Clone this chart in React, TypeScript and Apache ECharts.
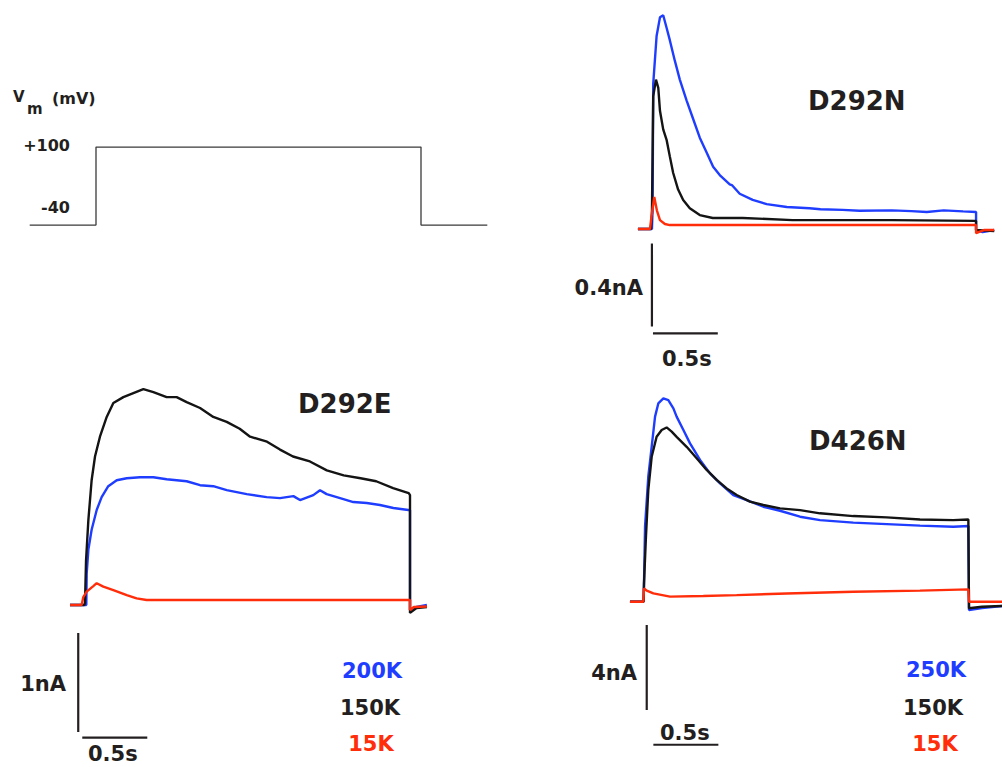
import React, { useEffect, useRef } from "react";
import * as echarts from "echarts";

// Membrane potential step (s, mV)
const vmStep: [number, number][] = [
  [-0.51, -40], [0, -40], [0, 100], [2.5, 100], [2.5, -40], [3.01, -40],
];

// D292N currents (s, nA)
const d292n200K: [number, number][] = [
  [-0.108, 0], [0, 0], [0.005, 0.09], [0.01, 0.7], [0.036, 0.93], [0.062, 1.02], [0.087, 1.03],
  [0.113, 0.97], [0.138, 0.91], [0.177, 0.81], [0.215, 0.72], [0.267, 0.62], [0.318, 0.53],
  [0.369, 0.44], [0.421, 0.37], [0.472, 0.3], [0.523, 0.26], [0.6, 0.215], [0.62, 0.21],
  [0.677, 0.17], [0.777, 0.14], [0.885, 0.12], [1.04, 0.106], [1.215, 0.1], [1.3, 0.095],
  [1.47, 0.092], [1.6, 0.088], [1.85, 0.09], [2.0, 0.086], [2.12, 0.082], [2.25, 0.09],
  [2.4, 0.085], [2.5, 0.082], [2.5, -0.005], [2.55, -0.015], [2.64, -0.005],
];
const d292n150K: [number, number][] = [
  [-0.108, 0], [-0.008, 0], [0, 0.077], [0.01, 0.64], [0.031, 0.72], [0.049, 0.68],
  [0.062, 0.57], [0.087, 0.48], [0.113, 0.43], [0.138, 0.35], [0.164, 0.27], [0.202, 0.19],
  [0.241, 0.14], [0.292, 0.1], [0.369, 0.067], [0.469, 0.053], [0.7, 0.053], [1.085, 0.043],
  [1.85, 0.043], [2.5, 0.039], [2.5, -0.005], [2.64, -0.01],
];
const d292n15K: [number, number][] = [
  [-0.108, 0], [-0.015, 0], [0, 0.077], [0.018, 0.154], [0.038, 0.09], [0.062, 0.043],
  [0.1, 0.024], [0.138, 0.019], [2.5, 0.019], [2.5, -0.02], [2.56, -0.005], [2.64, -0.005],
];

// D292E currents (s, nA)
const d292e200K: [number, number][] = [
  [-0.115, 0], [0.01, 0], [0.013, 0.32], [0.026, 0.56], [0.051, 0.76], [0.09, 0.96],
  [0.128, 1.09], [0.179, 1.2], [0.244, 1.26], [0.321, 1.28], [0.423, 1.29], [0.526, 1.29],
  [0.628, 1.27], [0.782, 1.25], [0.885, 1.21], [0.987, 1.2], [1.09, 1.16], [1.244, 1.12],
  [1.397, 1.09], [1.5, 1.08], [1.603, 1.1], [1.654, 1.06], [1.756, 1.11], [1.808, 1.16],
  [1.859, 1.12], [1.962, 1.08], [2.064, 1.04], [2.167, 1.03], [2.269, 1.01], [2.372, 0.98],
  [2.487, 0.96], [2.5, 0.96], [2.5, -0.05], [2.55, -0.02], [2.63, 0.0],
];
const d292e150K: [number, number][] = [
  [-0.115, 0], [-0.005, 0], [0, 0.02], [0.008, 0.45], [0.026, 0.86], [0.051, 1.26],
  [0.077, 1.5], [0.115, 1.7], [0.167, 1.9], [0.218, 2.04], [0.295, 2.1], [0.372, 2.14],
  [0.449, 2.18], [0.526, 2.15], [0.628, 2.1], [0.705, 2.1], [0.782, 2.05], [0.885, 1.99],
  [0.987, 1.9], [1.09, 1.85], [1.19, 1.78], [1.27, 1.7], [1.4, 1.65], [1.5, 1.57],
  [1.6, 1.5], [1.73, 1.45], [1.86, 1.36], [1.99, 1.31], [2.12, 1.28], [2.24, 1.25],
  [2.37, 1.18], [2.49, 1.13], [2.5, 1.11], [2.5, -0.08], [2.55, -0.03], [2.63, -0.02],
];
const d292e15K: [number, number][] = [
  [-0.115, 0], [-0.026, 0], [-0.013, 0.08], [0.013, 0.135], [0.064, 0.19], [0.09, 0.22],
  [0.141, 0.185], [0.218, 0.15], [0.321, 0.1], [0.397, 0.067], [0.474, 0.05], [0.577, 0.05],
  [2.5, 0.05], [2.5, -0.05], [2.53, -0.02], [2.63, -0.015],
];

// D426N currents (s, nA)
const d426n250K: [number, number][] = [
  [-0.108, 0], [-0.003, 0], [0, 0.86], [0.008, 3.53], [0.033, 5.88], [0.059, 7.29],
  [0.085, 8.71], [0.110, 9.33], [0.149, 9.57], [0.187, 9.49], [0.226, 9.1], [0.251, 8.71],
  [0.303, 8.08], [0.354, 7.45], [0.431, 6.67], [0.508, 6.04], [0.585, 5.57], [0.687, 5.02],
  [0.79, 4.78], [0.918, 4.47], [1.046, 4.28], [1.2, 4.0], [1.354, 3.84], [1.61, 3.72],
  [1.867, 3.65], [2.123, 3.58], [2.379, 3.53], [2.495, 3.56], [2.5, -0.39], [2.6, -0.3],
  [2.754, -0.2],
];
const d426n150K: [number, number][] = [
  [-0.108, 0], [-0.003, 0], [0, 0.86], [0.015, 3.06], [0.033, 5.25], [0.059, 6.82],
  [0.097, 7.76], [0.136, 8.08], [0.174, 8.2], [0.213, 8.0], [0.251, 7.76], [0.328, 7.29],
  [0.405, 6.75], [0.482, 6.2], [0.559, 5.73], [0.636, 5.33], [0.713, 5.02], [0.815, 4.71],
  [0.918, 4.55], [1.046, 4.39], [1.2, 4.31], [1.354, 4.16], [1.61, 4.03], [1.867, 3.97],
  [2.123, 3.87], [2.379, 3.84], [2.495, 3.87], [2.5, -0.31], [2.6, -0.24], [2.754, -0.2],
];
const d426n15K: [number, number][] = [
  [-0.108, 0], [-0.005, 0], [0, 0.63], [0.021, 0.52], [0.072, 0.39], [0.2, 0.24],
  [0.456, 0.27], [0.713, 0.31], [1.097, 0.39], [1.61, 0.47], [2.123, 0.52], [2.495, 0.58],
  [2.5, 0.0], [2.754, 0.0],
];

// Scale bars, anchored in each panel's data space
const d292nBars = { x: 0, yTop: -0.07, nA: 0.4, tStart: 0.008, sec: 0.5, yTime: -0.503 };
const d292eBars = { x: -0.052, yTop: -0.283, nA: 1, tStart: -0.021, sec: 0.5, yTime: -1.34 };
const d426nBars = { x: 0.021, yTop: -1.1, nA: 4, tStart: 0.072, sec: 0.5, yTime: -6.73 };

const legendD292E = ["200K", "150K", "15K"];
const legendD426N = ["250K", "150K", "15K"];

const BLUE = "#1f3dff";
const BLACK = "#141414";
const RED = "#ff2d0a";
const INK = "#231f20";
const FONT = "DejaVu Sans";

function trace(data: [number, number][], color: string, idx: number) {
  return {
    type: "line",
    data,
    xAxisIndex: idx,
    yAxisIndex: idx,
    showSymbol: false,
    symbol: "none",
    silent: true,
    lineStyle: { color, width: 2.4 },
  };
}

function bars(b: typeof d292nBars, idx: number) {
  const style = { color: INK, width: 2.2 };
  return [
    {
      type: "line", xAxisIndex: idx, yAxisIndex: idx, symbol: "none", silent: true,
      data: [[b.x, b.yTop], [b.x, b.yTop - b.nA]], lineStyle: style,
    },
    {
      type: "line", xAxisIndex: idx, yAxisIndex: idx, symbol: "none", silent: true,
      data: [[b.tStart, b.yTime], [b.tStart + b.sec, b.yTime]], lineStyle: style,
    },
  ];
}

function txt(text: string, x: number, y: number, size: number, align: string, fill = INK) {
  return {
    type: "text",
    x,
    y,
    silent: true,
    style: {
      text,
      fill,
      font: `bold ${size}px "${FONT}"`,
      textAlign: align,
      textVerticalAlign: "middle",
    },
  };
}

export default function App() {
  const ref = useRef<HTMLDivElement>(null);

  useEffect(() => {
    if (!ref.current) return;
    const chart = echarts.init(ref.current, undefined, { renderer: "svg" });

    const grids = [
      { left: 18, top: 135.9, width: 481, height: 100.3 },
      { left: 626, top: 0.75, width: 377, height: 373.5 },
      { left: 59, top: 367.4, width: 390, height: 376.2 },
      { left: 624.5, top: 346.7, width: 377, height: 414.4 },
    ];
    const xRanges = [[-0.6, 3.1], [-0.2, 2.7], [-0.2, 2.8], [-0.15, 2.75]];
    const yRanges = [[-60, 120], [-0.7, 1.1], [-1.4, 2.4], [-7.5, 12]];

    const option = {
      animation: false,
      backgroundColor: "#ffffff",
      grid: grids.map((g) => ({ ...g, containLabel: false, show: false })),
      xAxis: xRanges.map((r, i) => ({
        type: "value", gridIndex: i, min: r[0], max: r[1], show: false,
      })),
      yAxis: yRanges.map((r, i) => ({
        type: "value", gridIndex: i, min: r[0], max: r[1], show: false,
      })),
      series: [
        {
          type: "line", data: vmStep, xAxisIndex: 0, yAxisIndex: 0, symbol: "none",
          silent: true, lineStyle: { color: "#3a3a3a", width: 1.3 },
        },
        trace(d292n200K, BLUE, 1),
        trace(d292n150K, BLACK, 1),
        trace(d292n15K, RED, 1),
        ...bars(d292nBars, 1),
        trace(d292e200K, BLUE, 2),
        trace(d292e150K, BLACK, 2),
        trace(d292e15K, RED, 2),
        ...bars(d292eBars, 2),
        trace(d426n250K, BLUE, 3),
        trace(d426n150K, BLACK, 3),
        trace(d426n15K, RED, 3),
        ...bars(d426nBars, 3),
      ],
      graphic: [
        txt("V", 13, 97, 15, "left"),
        txt("m", 27, 109, 15, "left"),
        txt("(mV)", 52, 98, 16, "left"),
        txt("+100", 70, 145, 16, "right"),
        txt("-40", 70, 207, 16, "right"),
        txt("D292N", 808, 101, 26, "left"),
        txt("D292E", 298, 404, 26, "left"),
        txt("D426N", 809, 441, 26, "left"),
        txt("0.4nA", 643, 288, 21, "right"),
        txt("0.5s", 662, 359, 21, "left"),
        txt("1nA", 66, 684, 21, "right"),
        txt("0.5s", 88, 754, 21, "left"),
        txt("4nA", 637, 673, 21, "right"),
        txt("0.5s", 660, 733, 21, "left"),
        txt(legendD292E[0], 372, 671, 21, "center", BLUE),
        txt(legendD292E[1], 370, 708, 21, "center", INK),
        txt(legendD292E[2], 371, 744, 21, "center", RED),
        txt(legendD426N[0], 936, 670, 21, "center", BLUE),
        txt(legendD426N[1], 933, 708, 21, "center", INK),
        txt(legendD426N[2], 935, 744, 21, "center", RED),
      ],
    };

    chart.setOption(option as any);
    return () => chart.dispose();
  }, []);

  return (
    <div
      ref={ref}
      style={{ position: "fixed", left: 0, top: 0, width: 1002, height: 767, background: "#fff" }}
    />
  );
}
